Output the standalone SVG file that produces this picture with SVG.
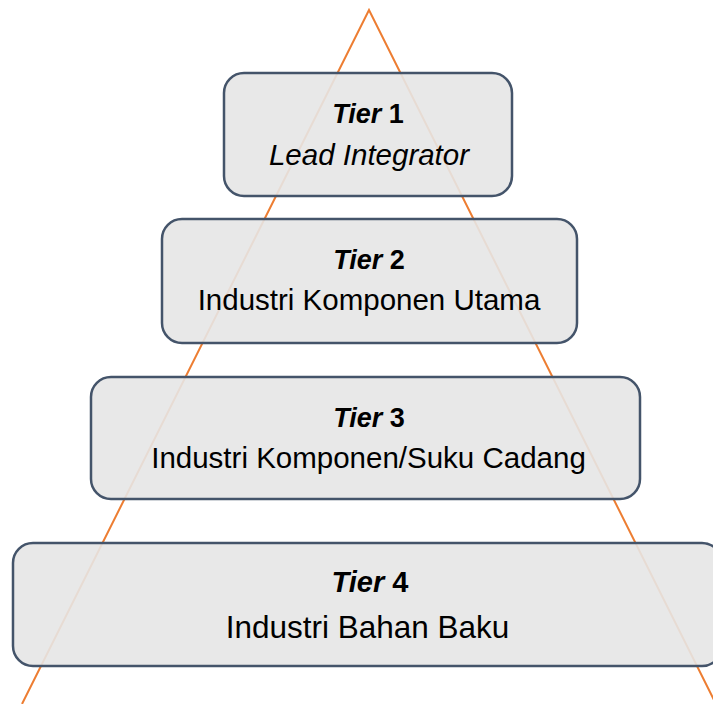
<svg xmlns="http://www.w3.org/2000/svg" width="713" height="704" viewBox="0 0 713 704">
<style>
.box{fill:#e6e6e6;fill-opacity:0.9;stroke:#44546a;stroke-width:2.5}
.t{font-family:"Liberation Sans",Arial,sans-serif;fill:#000;text-anchor:middle}
.lbl{font-weight:bold;font-size:27px}
.sub{font-size:29.5px}
</style>
<rect width="713" height="704" fill="#fff"/>
<g id="connectors">
<path d="M22,704 L369,10 L716,704" fill="none" stroke="#ed7d31" stroke-width="2"/>
</g>
<g id="tier1">
<rect class="box" x="224" y="73" width="288" height="123" rx="20"/>
<text class="t lbl" x="368" y="123"><tspan font-style="italic">Tier</tspan> 1</text>
<text class="t sub" x="369" y="165" font-style="italic">Lead Integrator</text>
</g>
<g id="tier2">
<rect class="box" x="162" y="219" width="415" height="124" rx="20"/>
<text class="t lbl" x="369" y="269"><tspan font-style="italic">Tier</tspan> 2</text>
<text class="t sub" x="369" y="310">Industri Komponen Utama</text>
</g>
<g id="tier3">
<rect class="box" x="91" y="377" width="549" height="122" rx="20"/>
<text class="t lbl" x="369" y="427"><tspan font-style="italic">Tier</tspan> 3</text>
<text class="t sub" x="368.5" y="468">Industri Komponen/Suku Cadang</text>
</g>
<g id="tier4">
<rect class="box" x="13" y="543" width="709" height="123" rx="20"/>
<text class="t lbl" x="370" y="592" style="font-size:29px"><tspan font-style="italic">Tier</tspan> 4</text>
<text class="t sub" x="367.5" y="638" style="font-size:31.5px">Industri Bahan Baku</text>
</g>
</svg>
